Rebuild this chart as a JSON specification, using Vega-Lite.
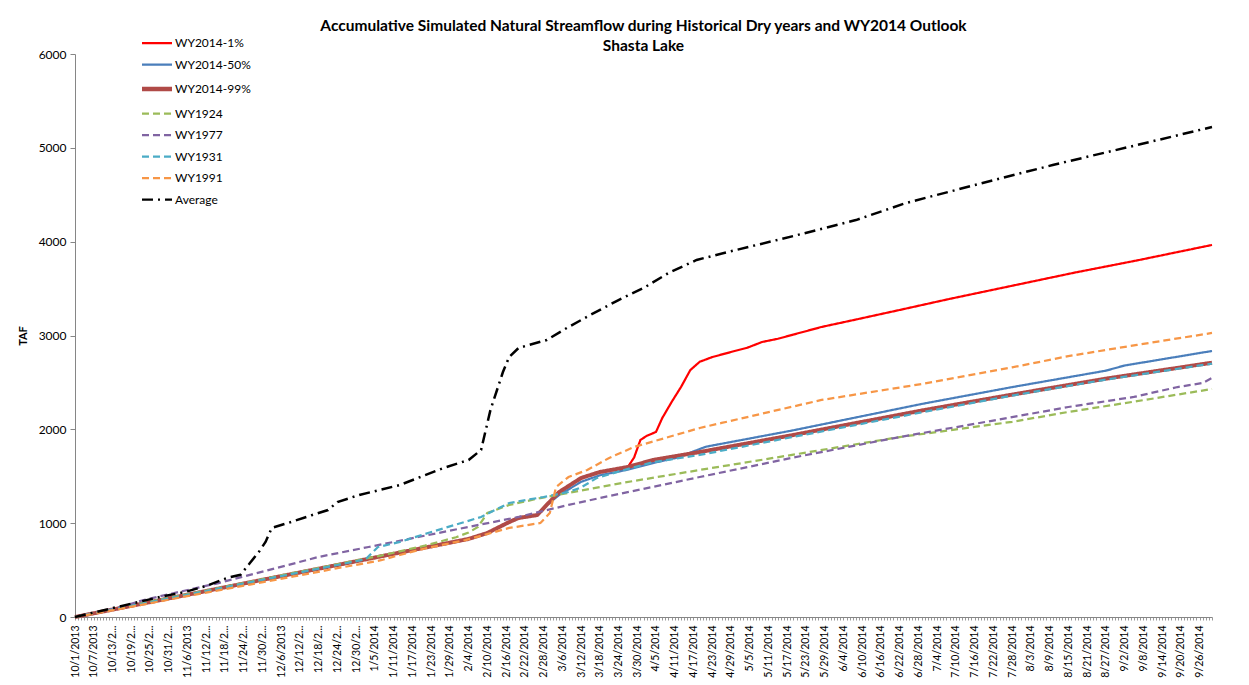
{
  "$schema": "https://vega.github.io/schema/vega-lite/v6.json",
  "width": 1137,
  "height": 563,
  "autosize": {"type": "none"},
  "padding": {"left": 75, "top": 54, "right": 37, "bottom": 68},
  "background": "white",
  "config": {
    "view": {"stroke": null},
    "font": "Lato"
  },
  "title": {
    "text": ["Accumulative Simulated Natural Streamflow during Historical Dry years and WY2014 Outlook", "Shasta Lake"],
    "font": "Lato",
    "fontSize": 15.5,
    "fontWeight": "bold",
    "color": "#000000",
    "anchor": "middle",
    "lineHeight": 20,
    "offset": -17
  },
  "data": {
    "values": [
      {"series": "WY2014-1%", "date": "2013-10-01", "taf": 0},
      {"series": "WY2014-1%", "date": "2013-10-15", "taf": 92},
      {"series": "WY2014-1%", "date": "2013-10-29", "taf": 185},
      {"series": "WY2014-1%", "date": "2013-11-12", "taf": 277},
      {"series": "WY2014-1%", "date": "2013-11-26", "taf": 370},
      {"series": "WY2014-1%", "date": "2013-12-10", "taf": 462},
      {"series": "WY2014-1%", "date": "2013-12-24", "taf": 554},
      {"series": "WY2014-1%", "date": "2014-01-07", "taf": 647},
      {"series": "WY2014-1%", "date": "2014-01-21", "taf": 739},
      {"series": "WY2014-1%", "date": "2014-02-04", "taf": 832},
      {"series": "WY2014-1%", "date": "2014-02-10", "taf": 895},
      {"series": "WY2014-1%", "date": "2014-02-17", "taf": 1012},
      {"series": "WY2014-1%", "date": "2014-02-20", "taf": 1055},
      {"series": "WY2014-1%", "date": "2014-02-26", "taf": 1087},
      {"series": "WY2014-1%", "date": "2014-03-01", "taf": 1194},
      {"series": "WY2014-1%", "date": "2014-03-05", "taf": 1332},
      {"series": "WY2014-1%", "date": "2014-03-12", "taf": 1481},
      {"series": "WY2014-1%", "date": "2014-03-18", "taf": 1545},
      {"series": "WY2014-1%", "date": "2014-03-27", "taf": 1599},
      {"series": "WY2014-1%", "date": "2014-03-29", "taf": 1700},
      {"series": "WY2014-1%", "date": "2014-03-31", "taf": 1886},
      {"series": "WY2014-1%", "date": "2014-04-02", "taf": 1930},
      {"series": "WY2014-1%", "date": "2014-04-05", "taf": 1972},
      {"series": "WY2014-1%", "date": "2014-04-07", "taf": 2120},
      {"series": "WY2014-1%", "date": "2014-04-10", "taf": 2291},
      {"series": "WY2014-1%", "date": "2014-04-13", "taf": 2451},
      {"series": "WY2014-1%", "date": "2014-04-16", "taf": 2632},
      {"series": "WY2014-1%", "date": "2014-04-19", "taf": 2720},
      {"series": "WY2014-1%", "date": "2014-04-23", "taf": 2770},
      {"series": "WY2014-1%", "date": "2014-04-29", "taf": 2824},
      {"series": "WY2014-1%", "date": "2014-05-04", "taf": 2867},
      {"series": "WY2014-1%", "date": "2014-05-09", "taf": 2931},
      {"series": "WY2014-1%", "date": "2014-05-14", "taf": 2965},
      {"series": "WY2014-1%", "date": "2014-05-19", "taf": 3010},
      {"series": "WY2014-1%", "date": "2014-05-28", "taf": 3091},
      {"series": "WY2014-1%", "date": "2014-06-08", "taf": 3170},
      {"series": "WY2014-1%", "date": "2014-06-22", "taf": 3272},
      {"series": "WY2014-1%", "date": "2014-07-08", "taf": 3390},
      {"series": "WY2014-1%", "date": "2014-07-28", "taf": 3530},
      {"series": "WY2014-1%", "date": "2014-08-17", "taf": 3670},
      {"series": "WY2014-1%", "date": "2014-09-06", "taf": 3800},
      {"series": "WY2014-1%", "date": "2014-09-30", "taf": 3965},

      {"series": "WY2014-50%", "date": "2013-10-01", "taf": 0},
      {"series": "WY2014-50%", "date": "2013-10-15", "taf": 92},
      {"series": "WY2014-50%", "date": "2013-10-29", "taf": 185},
      {"series": "WY2014-50%", "date": "2013-11-12", "taf": 277},
      {"series": "WY2014-50%", "date": "2013-11-26", "taf": 370},
      {"series": "WY2014-50%", "date": "2013-12-10", "taf": 462},
      {"series": "WY2014-50%", "date": "2013-12-24", "taf": 554},
      {"series": "WY2014-50%", "date": "2014-01-07", "taf": 647},
      {"series": "WY2014-50%", "date": "2014-01-21", "taf": 739},
      {"series": "WY2014-50%", "date": "2014-02-04", "taf": 832},
      {"series": "WY2014-50%", "date": "2014-02-10", "taf": 895},
      {"series": "WY2014-50%", "date": "2014-02-17", "taf": 1012},
      {"series": "WY2014-50%", "date": "2014-02-20", "taf": 1055},
      {"series": "WY2014-50%", "date": "2014-02-26", "taf": 1087},
      {"series": "WY2014-50%", "date": "2014-03-01", "taf": 1194},
      {"series": "WY2014-50%", "date": "2014-03-05", "taf": 1300},
      {"series": "WY2014-50%", "date": "2014-03-12", "taf": 1440},
      {"series": "WY2014-50%", "date": "2014-03-18", "taf": 1510},
      {"series": "WY2014-50%", "date": "2014-03-27", "taf": 1570},
      {"series": "WY2014-50%", "date": "2014-04-04", "taf": 1640},
      {"series": "WY2014-50%", "date": "2014-04-12", "taf": 1700},
      {"series": "WY2014-50%", "date": "2014-04-17", "taf": 1765},
      {"series": "WY2014-50%", "date": "2014-04-21", "taf": 1815},
      {"series": "WY2014-50%", "date": "2014-05-19", "taf": 1990},
      {"series": "WY2014-50%", "date": "2014-06-29", "taf": 2270},
      {"series": "WY2014-50%", "date": "2014-07-28", "taf": 2450},
      {"series": "WY2014-50%", "date": "2014-08-27", "taf": 2625},
      {"series": "WY2014-50%", "date": "2014-09-02", "taf": 2680},
      {"series": "WY2014-50%", "date": "2014-09-30", "taf": 2835},

      {"series": "WY2014-99%", "date": "2013-10-01", "taf": 0},
      {"series": "WY2014-99%", "date": "2013-10-15", "taf": 92},
      {"series": "WY2014-99%", "date": "2013-10-29", "taf": 185},
      {"series": "WY2014-99%", "date": "2013-11-12", "taf": 277},
      {"series": "WY2014-99%", "date": "2013-11-26", "taf": 370},
      {"series": "WY2014-99%", "date": "2013-12-10", "taf": 462},
      {"series": "WY2014-99%", "date": "2013-12-24", "taf": 554},
      {"series": "WY2014-99%", "date": "2014-01-07", "taf": 647},
      {"series": "WY2014-99%", "date": "2014-01-21", "taf": 739},
      {"series": "WY2014-99%", "date": "2014-02-04", "taf": 832},
      {"series": "WY2014-99%", "date": "2014-02-10", "taf": 895},
      {"series": "WY2014-99%", "date": "2014-02-17", "taf": 1012},
      {"series": "WY2014-99%", "date": "2014-02-20", "taf": 1055},
      {"series": "WY2014-99%", "date": "2014-02-26", "taf": 1087},
      {"series": "WY2014-99%", "date": "2014-03-01", "taf": 1194},
      {"series": "WY2014-99%", "date": "2014-03-05", "taf": 1332},
      {"series": "WY2014-99%", "date": "2014-03-12", "taf": 1481},
      {"series": "WY2014-99%", "date": "2014-03-18", "taf": 1545},
      {"series": "WY2014-99%", "date": "2014-03-27", "taf": 1599},
      {"series": "WY2014-99%", "date": "2014-04-04", "taf": 1673},
      {"series": "WY2014-99%", "date": "2014-04-19", "taf": 1758},
      {"series": "WY2014-99%", "date": "2014-05-19", "taf": 1940},
      {"series": "WY2014-99%", "date": "2014-06-29", "taf": 2200},
      {"series": "WY2014-99%", "date": "2014-07-28", "taf": 2370},
      {"series": "WY2014-99%", "date": "2014-08-27", "taf": 2540},
      {"series": "WY2014-99%", "date": "2014-09-30", "taf": 2710},

      {"series": "WY1924", "date": "2013-10-01", "taf": 0},
      {"series": "WY1924", "date": "2013-10-15", "taf": 95},
      {"series": "WY1924", "date": "2013-10-29", "taf": 190},
      {"series": "WY1924", "date": "2013-11-12", "taf": 282},
      {"series": "WY1924", "date": "2013-11-26", "taf": 375},
      {"series": "WY1924", "date": "2013-12-10", "taf": 470},
      {"series": "WY1924", "date": "2013-12-24", "taf": 562},
      {"series": "WY1924", "date": "2014-01-07", "taf": 655},
      {"series": "WY1924", "date": "2014-01-21", "taf": 760},
      {"series": "WY1924", "date": "2014-01-31", "taf": 850},
      {"series": "WY1924", "date": "2014-02-04", "taf": 900},
      {"series": "WY1924", "date": "2014-02-07", "taf": 960},
      {"series": "WY1924", "date": "2014-02-10", "taf": 1108},
      {"series": "WY1924", "date": "2014-02-17", "taf": 1194},
      {"series": "WY1924", "date": "2014-02-27", "taf": 1268},
      {"series": "WY1924", "date": "2014-03-08", "taf": 1322},
      {"series": "WY1924", "date": "2014-03-18", "taf": 1385},
      {"series": "WY1924", "date": "2014-03-25", "taf": 1428},
      {"series": "WY1924", "date": "2014-04-19", "taf": 1567},
      {"series": "WY1924", "date": "2014-05-19", "taf": 1730},
      {"series": "WY1924", "date": "2014-06-22", "taf": 1918},
      {"series": "WY1924", "date": "2014-07-28", "taf": 2080},
      {"series": "WY1924", "date": "2014-08-15", "taf": 2185},
      {"series": "WY1924", "date": "2014-09-06", "taf": 2300},
      {"series": "WY1924", "date": "2014-09-30", "taf": 2430},

      {"series": "WY1977", "date": "2013-10-01", "taf": 0},
      {"series": "WY1977", "date": "2013-10-15", "taf": 100},
      {"series": "WY1977", "date": "2013-10-23", "taf": 181},
      {"series": "WY1977", "date": "2013-11-05", "taf": 280},
      {"series": "WY1977", "date": "2013-11-16", "taf": 362},
      {"series": "WY1977", "date": "2013-11-26", "taf": 448},
      {"series": "WY1977", "date": "2013-12-18", "taf": 640},
      {"series": "WY1977", "date": "2014-01-03", "taf": 746},
      {"series": "WY1977", "date": "2014-01-19", "taf": 853},
      {"series": "WY1977", "date": "2014-02-04", "taf": 960},
      {"series": "WY1977", "date": "2014-02-20", "taf": 1066},
      {"series": "WY1977", "date": "2014-02-25", "taf": 1108},
      {"series": "WY1977", "date": "2014-03-08", "taf": 1194},
      {"series": "WY1977", "date": "2014-03-18", "taf": 1268},
      {"series": "WY1977", "date": "2014-04-19", "taf": 1492},
      {"series": "WY1977", "date": "2014-05-19", "taf": 1700},
      {"series": "WY1977", "date": "2014-06-22", "taf": 1918},
      {"series": "WY1977", "date": "2014-07-18", "taf": 2070},
      {"series": "WY1977", "date": "2014-08-15", "taf": 2238},
      {"series": "WY1977", "date": "2014-09-05", "taf": 2345},
      {"series": "WY1977", "date": "2014-09-19", "taf": 2451},
      {"series": "WY1977", "date": "2014-09-27", "taf": 2494},
      {"series": "WY1977", "date": "2014-09-30", "taf": 2547},

      {"series": "WY1931", "date": "2013-10-01", "taf": 0},
      {"series": "WY1931", "date": "2013-10-15", "taf": 92},
      {"series": "WY1931", "date": "2013-10-29", "taf": 185},
      {"series": "WY1931", "date": "2013-11-12", "taf": 277},
      {"series": "WY1931", "date": "2013-11-26", "taf": 370},
      {"series": "WY1931", "date": "2013-12-10", "taf": 462},
      {"series": "WY1931", "date": "2013-12-24", "taf": 554},
      {"series": "WY1931", "date": "2014-01-02", "taf": 615},
      {"series": "WY1931", "date": "2014-01-06", "taf": 746},
      {"series": "WY1931", "date": "2014-01-13", "taf": 800},
      {"series": "WY1931", "date": "2014-01-22", "taf": 895},
      {"series": "WY1931", "date": "2014-02-08", "taf": 1066},
      {"series": "WY1931", "date": "2014-02-17", "taf": 1215},
      {"series": "WY1931", "date": "2014-02-28", "taf": 1279},
      {"series": "WY1931", "date": "2014-03-08", "taf": 1332},
      {"series": "WY1931", "date": "2014-03-12", "taf": 1380},
      {"series": "WY1931", "date": "2014-03-17", "taf": 1481},
      {"series": "WY1931", "date": "2014-03-25", "taf": 1560},
      {"series": "WY1931", "date": "2014-04-04", "taf": 1650},
      {"series": "WY1931", "date": "2014-04-19", "taf": 1727},
      {"series": "WY1931", "date": "2014-05-19", "taf": 1920},
      {"series": "WY1931", "date": "2014-06-29", "taf": 2180},
      {"series": "WY1931", "date": "2014-07-28", "taf": 2360},
      {"series": "WY1931", "date": "2014-08-27", "taf": 2530},
      {"series": "WY1931", "date": "2014-09-30", "taf": 2700},

      {"series": "WY1991", "date": "2013-10-01", "taf": 0},
      {"series": "WY1991", "date": "2013-10-15", "taf": 85},
      {"series": "WY1991", "date": "2013-10-29", "taf": 172},
      {"series": "WY1991", "date": "2013-11-12", "taf": 260},
      {"series": "WY1991", "date": "2013-11-26", "taf": 345},
      {"series": "WY1991", "date": "2013-12-10", "taf": 432},
      {"series": "WY1991", "date": "2013-12-24", "taf": 520},
      {"series": "WY1991", "date": "2014-01-07", "taf": 605},
      {"series": "WY1991", "date": "2014-01-13", "taf": 661},
      {"series": "WY1991", "date": "2014-01-21", "taf": 730},
      {"series": "WY1991", "date": "2014-02-03", "taf": 820},
      {"series": "WY1991", "date": "2014-02-17", "taf": 949},
      {"series": "WY1991", "date": "2014-02-27", "taf": 1002},
      {"series": "WY1991", "date": "2014-03-02", "taf": 1108},
      {"series": "WY1991", "date": "2014-03-04", "taf": 1385},
      {"series": "WY1991", "date": "2014-03-08", "taf": 1492},
      {"series": "WY1991", "date": "2014-03-14", "taf": 1567},
      {"series": "WY1991", "date": "2014-03-21", "taf": 1695},
      {"series": "WY1991", "date": "2014-03-29", "taf": 1812},
      {"series": "WY1991", "date": "2014-04-09", "taf": 1918},
      {"series": "WY1991", "date": "2014-04-19", "taf": 2014},
      {"series": "WY1991", "date": "2014-04-26", "taf": 2068},
      {"series": "WY1991", "date": "2014-05-28", "taf": 2313},
      {"series": "WY1991", "date": "2014-06-29", "taf": 2483},
      {"series": "WY1991", "date": "2014-07-28", "taf": 2660},
      {"series": "WY1991", "date": "2014-08-15", "taf": 2780},
      {"series": "WY1991", "date": "2014-09-06", "taf": 2900},
      {"series": "WY1991", "date": "2014-09-30", "taf": 3027},

      {"series": "Average", "date": "2013-10-01", "taf": 0},
      {"series": "Average", "date": "2013-10-08", "taf": 55},
      {"series": "Average", "date": "2013-10-15", "taf": 110},
      {"series": "Average", "date": "2013-10-22", "taf": 165},
      {"series": "Average", "date": "2013-10-29", "taf": 220},
      {"series": "Average", "date": "2013-11-05", "taf": 265},
      {"series": "Average", "date": "2013-11-12", "taf": 330},
      {"series": "Average", "date": "2013-11-19", "taf": 420},
      {"series": "Average", "date": "2013-11-23", "taf": 450},
      {"series": "Average", "date": "2013-11-26", "taf": 575},
      {"series": "Average", "date": "2013-11-29", "taf": 700},
      {"series": "Average", "date": "2013-12-01", "taf": 800},
      {"series": "Average", "date": "2013-12-03", "taf": 950},
      {"series": "Average", "date": "2013-12-08", "taf": 1000},
      {"series": "Average", "date": "2013-12-16", "taf": 1087},
      {"series": "Average", "date": "2013-12-21", "taf": 1140},
      {"series": "Average", "date": "2013-12-24", "taf": 1225},
      {"series": "Average", "date": "2013-12-31", "taf": 1300},
      {"series": "Average", "date": "2014-01-13", "taf": 1407},
      {"series": "Average", "date": "2014-01-27", "taf": 1588},
      {"series": "Average", "date": "2014-02-04", "taf": 1673},
      {"series": "Average", "date": "2014-02-08", "taf": 1780},
      {"series": "Average", "date": "2014-02-11", "taf": 2206},
      {"series": "Average", "date": "2014-02-15", "taf": 2611},
      {"series": "Average", "date": "2014-02-17", "taf": 2771},
      {"series": "Average", "date": "2014-02-20", "taf": 2867},
      {"series": "Average", "date": "2014-03-01", "taf": 2952},
      {"series": "Average", "date": "2014-03-08", "taf": 3091},
      {"series": "Average", "date": "2014-03-15", "taf": 3219},
      {"series": "Average", "date": "2014-03-24", "taf": 3378},
      {"series": "Average", "date": "2014-04-01", "taf": 3506},
      {"series": "Average", "date": "2014-04-09", "taf": 3666},
      {"series": "Average", "date": "2014-04-18", "taf": 3805},
      {"series": "Average", "date": "2014-04-28", "taf": 3890},
      {"series": "Average", "date": "2014-05-19", "taf": 4060},
      {"series": "Average", "date": "2014-06-08", "taf": 4230},
      {"series": "Average", "date": "2014-06-24", "taf": 4412},
      {"series": "Average", "date": "2014-07-18", "taf": 4620},
      {"series": "Average", "date": "2014-08-10", "taf": 4817},
      {"series": "Average", "date": "2014-09-06", "taf": 5030},
      {"series": "Average", "date": "2014-09-30", "taf": 5222}
    ]
  },
  "encoding": {
    "x": {
      "field": "date",
      "type": "temporal",
      "scale": {
        "type": "utc",
        "domain": [
          {"year": 2013, "month": 10, "date": 1, "utc": true},
          {"year": 2014, "month": 9, "date": 30, "utc": true}
        ]
      },
      "axis": {
        "title": null,
        "grid": false,
        "tickCount": {"interval": "day", "step": 1},
        "tickSize": 3,
        "tickColor": "#9a9a9a",
        "domainColor": "#868686",
        "labelAngle": -90,
        "labelPadding": 5,
        "labelOverlap": false,
        "labelBound": false,
        "labelFlush": false,
        "labelFont": "Lato",
        "labelFontSize": 10.5,
        "labelColor": "#000000",
        "labelExpr": "(round((datum.value - 1380585600000) / 86400000) % 6 == 0) ? (length(utcFormat(datum.value, '%-m/%-d/%Y')) > 9 ? substring(utcFormat(datum.value, '%-m/%-d/%Y'), 0, 7) + '...' : utcFormat(datum.value, '%-m/%-d/%Y')) : ''"
      }
    },
    "y": {
      "field": "taf",
      "type": "quantitative",
      "scale": {"domain": [0, 6000], "nice": false},
      "axis": {
        "title": "TAF",
        "titleFont": "Lato",
        "titleFontSize": 11,
        "titleFontWeight": "bold",
        "titleColor": "#000000",
        "titlePadding": 10,
        "values": [0, 1000, 2000, 3000, 4000, 5000, 6000],
        "format": "d",
        "grid": false,
        "tickSize": 5,
        "tickColor": "#868686",
        "domainColor": "#868686",
        "labelPadding": 4,
        "labelFont": "Lato",
        "labelFontSize": 12,
        "labelColor": "#000000"
      }
    },
    "color": {
      "field": "series",
      "type": "nominal",
      "scale": {
        "domain": ["WY2014-1%", "WY2014-50%", "WY2014-99%", "WY1924", "WY1977", "WY1931", "WY1991", "Average"],
        "range": ["#FF0000", "#4A7EBB", "#B04A47", "#9BBB59", "#8064A2", "#4BACC6", "#F79646", "#000000"]
      },
      "legend": {
        "title": null,
        "orient": "none",
        "legendX": 76,
        "legendY": -17,
        "direction": "vertical",
        "symbolType": "stroke",
        "symbolSize": 900,
        "symbolStrokeWidth": 2.25,
        "rowPadding": 9.5,
        "labelFont": "Lato",
        "labelFontSize": 12,
        "labelColor": "#000000",
        "labelOffset": 12,
        "encode": {
          "symbols": {
            "update": {
              "strokeWidth": {"signal": "datum.value == 'WY2014-99%' ? 4.5 : 2.25"}
            }
          }
        }
      }
    },
    "strokeDash": {
      "field": "series",
      "type": "nominal",
      "scale": {
        "domain": ["WY2014-1%", "WY2014-50%", "WY2014-99%", "WY1924", "WY1977", "WY1931", "WY1991", "Average"],
        "range": [[1, 0], [1, 0], [1, 0], [7, 4], [7, 4], [7, 4], [7, 4], [11, 5, 2, 5]]
      }
    }
  },
  "layer": [
    {
      "transform": [{"filter": {"field": "series", "oneOf": ["WY2014-1%", "WY2014-50%"]}}],
      "mark": {"type": "line", "strokeWidth": 2.2}
    },
    {
      "transform": [{"filter": {"field": "series", "equal": "WY2014-99%"}}],
      "mark": {"type": "line", "strokeWidth": 4}
    },
    {
      "transform": [{"filter": {"field": "series", "oneOf": ["WY1924", "WY1977", "WY1931", "WY1991"]}}],
      "mark": {"type": "line", "strokeWidth": 2.25}
    },
    {
      "transform": [{"filter": {"field": "series", "equal": "Average"}}],
      "mark": {"type": "line", "strokeWidth": 2.5}
    }
  ]
}
